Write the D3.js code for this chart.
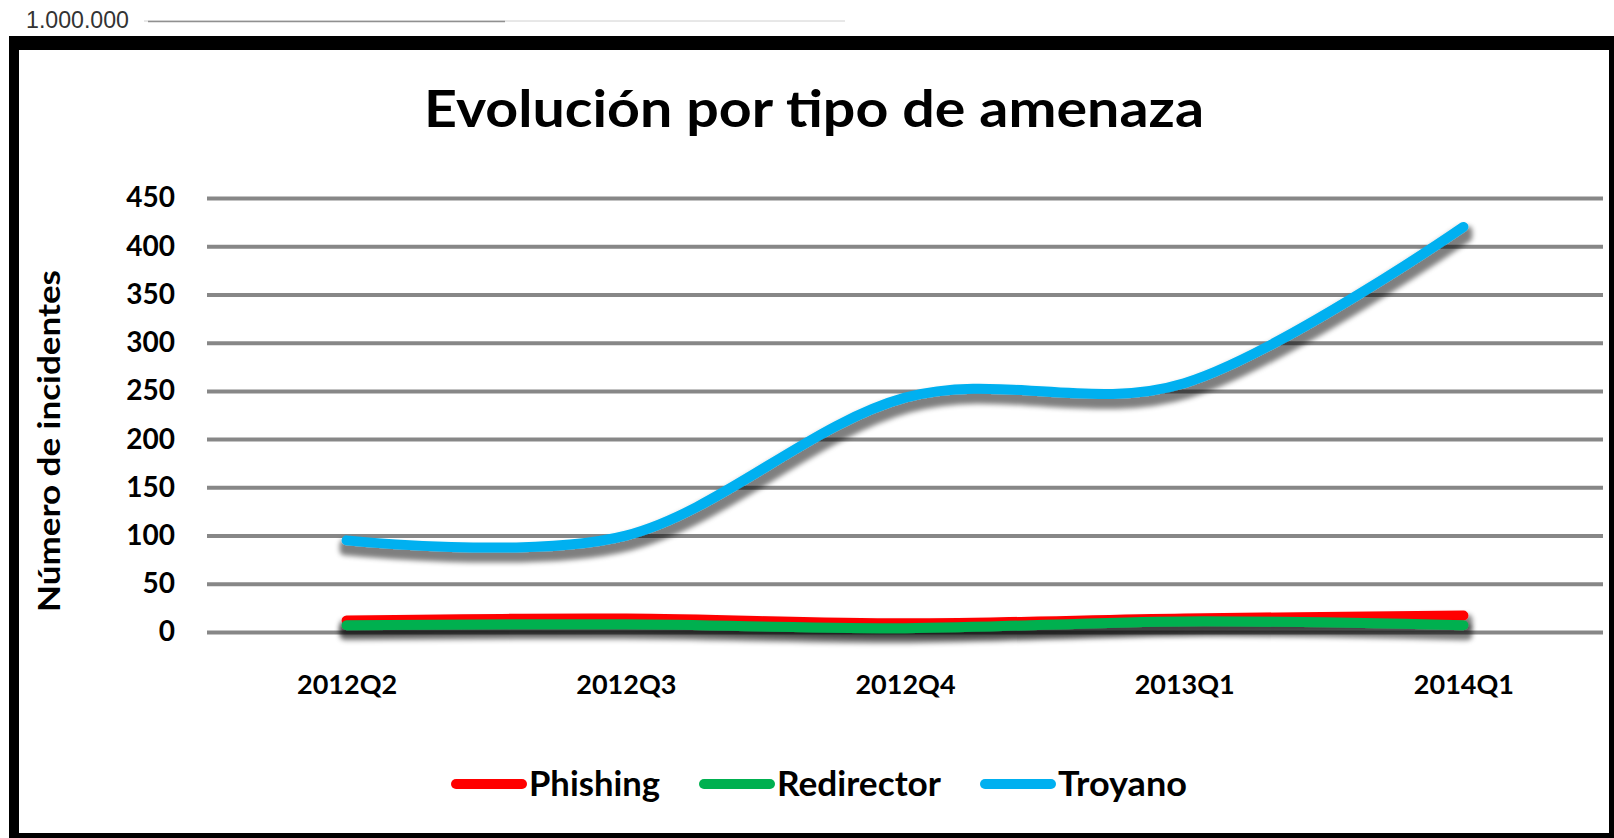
<!DOCTYPE html>
<html>
<head>
<meta charset="utf-8">
<script src="https://cdn.jsdelivr.net/npm/d3@7"></script>
<style>
  html, body { margin: 0; padding: 0; background: #fff; }
  svg { display: block; font-family: Lato, "Open Sans", sans-serif; }
</style>
</head>
<body>
<div id="chart"></div>
<script>
// data
const categories = ["2012Q2", "2012Q3", "2012Q4", "2013Q1", "2014Q1"];
const phishing = [12, 14, 9, 14, 17];
const redirector = [7, 8, 4, 11, 7];
const troyano = [95, 100, 243, 258, 420];
const yTicks = [0, 50, 100, 150, 200, 250, 300, 350, 400, 450];
const seriesNames = ["Phishing", "Redirector", "Troyano"];
const seriesColors = ["#ff0000", "#00b050", "#00b0f0"];

const width = 1614, height = 838;
const plot = { left: 207, right: 1603, top: 198, bottom: 632 };

const svg = d3.select("#chart")
  .append("svg")
  .attr("width", width)
  .attr("height", height)
  .attr("viewBox", `0 0 ${width} ${height}`);

// drop shadow like excel's outer shadow
const defs = svg.append("defs");
const f = defs.append("filter")
  .attr("id", "shadow")
  .attr("filterUnits", "userSpaceOnUse")
  .attr("x", 0).attr("y", 0).attr("width", width).attr("height", height);
f.append("feMorphology").attr("in", "SourceAlpha").attr("operator", "dilate").attr("radius", 2.5).attr("result", "d");
f.append("feOffset").attr("in", "d").attr("dx", 1).attr("dy", 7).attr("result", "o");
f.append("feGaussianBlur").attr("in", "o").attr("stdDeviation", 2.5).attr("result", "b");
f.append("feFlood").attr("flood-color", "#000").attr("flood-opacity", 0.5);
f.append("feComposite").attr("in2", "b").attr("operator", "in").attr("result", "s");
const merge = f.append("feMerge");
merge.append("feMergeNode").attr("in", "s");
merge.append("feMergeNode").attr("in", "SourceGraphic");

// bit of the chart above, cut off at the top
svg.append("text")
  .attr("x", 26).attr("y", 28)
  .attr("textLength", 103)
  .attr("lengthAdjust", "spacingAndGlyphs")
  .style("font-family", "'Liberation Sans Narrow', 'Liberation Sans', sans-serif")
  .style("font-size", "23px")
  .attr("fill", "#333")
  .text("1.000.000");
svg.append("line").attr("x1", 144).attr("x2", 845).attr("y1", 21).attr("y2", 21)
  .attr("stroke", "#d0d0d0").attr("stroke-width", 1);
svg.append("line").attr("x1", 148).attr("x2", 505).attr("y1", 21.5).attr("y2", 21.5)
  .attr("stroke", "#909090").attr("stroke-width", 1.5);

// black frame
svg.append("rect").attr("x", 9).attr("y", 36).attr("width", width).attr("height", height).attr("fill", "#000");
svg.append("rect").attr("x", 19).attr("y", 50).attr("width", 1590).attr("height", 783).attr("fill", "#fff");

// title
svg.append("text")
  .attr("x", 814).attr("y", 127)
  .attr("text-anchor", "middle")
  .attr("textLength", 780)
  .attr("lengthAdjust", "spacingAndGlyphs")
  .style("font-size", "51px")
  .style("font-weight", "bold")
  .attr("fill", "#000")
  .text("Evolución por tipo de amenaza");

// scales
const x = d3.scalePoint()
  .domain(categories)
  .range([plot.left, plot.right])
  .padding(0.5);

const y = d3.scaleLinear()
  .domain([0, 450])
  .range([plot.bottom, plot.top]);

// y axis with gridlines
const yAxis = svg.append("g")
  .attr("transform", `translate(${plot.left},0)`)
  .call(d3.axisLeft(y)
    .tickValues(yTicks)
    .tickSize(-(plot.right - plot.left))
    .tickPadding(32)
    .tickFormat(d3.format("d")));
yAxis.select(".domain").remove();
yAxis.selectAll(".tick line").attr("stroke", "#878787").attr("stroke-width", 4);
yAxis.selectAll(".tick text")
  .attr("fill", "#000")
  .style("font-family", "Lato, sans-serif")
  .style("font-size", "28px")
  .style("font-weight", "bold");

// x axis labels only
const xAxis = svg.append("g")
  .attr("transform", `translate(0,${plot.bottom})`)
  .call(d3.axisBottom(x).tickSize(0).tickPadding(43));
xAxis.select(".domain").remove();
xAxis.selectAll(".tick text")
  .attr("fill", "#000")
  .style("font-family", "Lato, sans-serif")
  .style("font-size", "27px")
  .style("font-weight", "bold");

// y axis title
svg.append("text")
  .attr("transform", "translate(60,441) rotate(-90)")
  .attr("text-anchor", "middle")
  .attr("textLength", 342)
  .attr("lengthAdjust", "spacingAndGlyphs")
  .style("font-size", "31px")
  .style("font-weight", "bold")
  .attr("fill", "#000")
  .text("Número de incidentes");

// lines
const seriesValues = [phishing, redirector, troyano];
const line = d3.line()
  .x((d, i) => x(categories[i]))
  .y(d => y(d))
  .curve(d3.curveCatmullRom.alpha(0));

svg.append("g")
  .selectAll("path.series")
  .data(seriesValues)
  .join("path")
  .attr("class", "series")
  .attr("d", d => line(d))
  .attr("fill", "none")
  .attr("stroke", (d, i) => seriesColors[i])
  .attr("stroke-width", 10)
  .attr("stroke-linecap", "round")
  .attr("stroke-linejoin", "round")
  .attr("filter", "url(#shadow)");

// legend (text widths as in the picture)
const legendTextWidths = [131, 164, 129];
const legend = svg.append("g").attr("transform", "translate(451,784)");
let lx = 0;
seriesNames.forEach((name, i) => {
  const g = legend.append("g").attr("transform", `translate(${lx},0)`);
  g.append("line")
    .attr("x1", 5).attr("x2", 71)
    .attr("stroke", seriesColors[i])
    .attr("stroke-width", 10)
    .attr("stroke-linecap", "round");
  g.append("text")
    .attr("x", 78).attr("y", 12)
    .attr("textLength", legendTextWidths[i])
    .attr("lengthAdjust", "spacingAndGlyphs")
    .style("font-size", "34px")
    .style("font-weight", "bold")
    .attr("fill", "#000")
    .text(name);
  lx += 78 + legendTextWidths[i] + 39;
});
</script>
</body>
</html>
